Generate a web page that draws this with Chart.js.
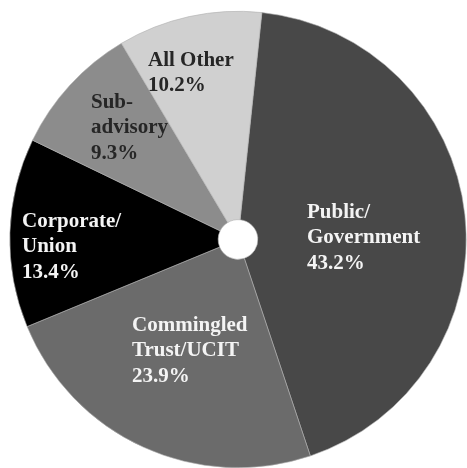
<!DOCTYPE html>
<html>
<head>
<meta charset="utf-8">
<script src="https://cdn.jsdelivr.net/npm/chart.js@4.4.0/dist/chart.umd.min.js"></script>
<style>
  html, body { margin: 0; padding: 0; background: #fff; }
  #wrap { position: relative; width: 467px; height: 468px; }
  .lbl {
    position: absolute;
    white-space: pre;
    font-family: "Liberation Serif", "Times New Roman", serif;
    font-weight: bold;
    font-size: 21px;
    line-height: 25.5px;
  }
</style>
</head>
<body>
<div id="wrap"><canvas id="chart" width="467" height="468"></canvas></div>
<script>
// slice data
const categories = ['Public/\nGovernment', 'Commingled\nTrust/UCIT', 'Corporate/\nUnion', 'Sub-\nadvisory', 'All Other'];
const shares = [43.2, 23.9, 13.4, 9.3, 10.2];

const sliceColors = ['#484848', '#6b6b6b', '#000000', '#8c8c8c', '#d0d0d0'];
const textColors = ['#f4f4f4', '#f4f4f4', '#f4f4f4', '#262626', '#262626'];
// label anchor, offset from the pie centre (left edge, middle of first line)
const labelOffsets = [[69, -28], [-106, 85], [-216, -19], [-147, -138], [-90, -180]];

const chart = new Chart(document.getElementById('chart'), {
    type: 'doughnut',
    data: {
        labels: categories,
        datasets: [{
            data: shares,
            backgroundColor: sliceColors,
            borderColor: '#b0b0b0',
            borderWidth: 0.6
        }]
    },
    options: {
        responsive: false,
        animation: false,
        rotation: 6,
        cutout: '8.7%',
        layout: { padding: { left: 9, right: 0, top: 11, bottom: 0 } },
        plugins: {
            legend: { display: false },
            tooltip: { enabled: false }
        }
    }
});

// slice labels as html text placed from the arc elements
const wrap = document.getElementById('wrap');
chart.getDatasetMeta(0).data.forEach((arc, i) => {
    const div = document.createElement('div');
    div.className = 'lbl';
    div.textContent = categories[i] + '\n' + shares[i].toFixed(1) + '%';
    div.style.color = textColors[i];
    div.style.left = (arc.x + labelOffsets[i][0]) + 'px';
    div.style.top = (arc.y + labelOffsets[i][1] - 12.75) + 'px';
    wrap.appendChild(div);
});
</script>
</body>
</html>
